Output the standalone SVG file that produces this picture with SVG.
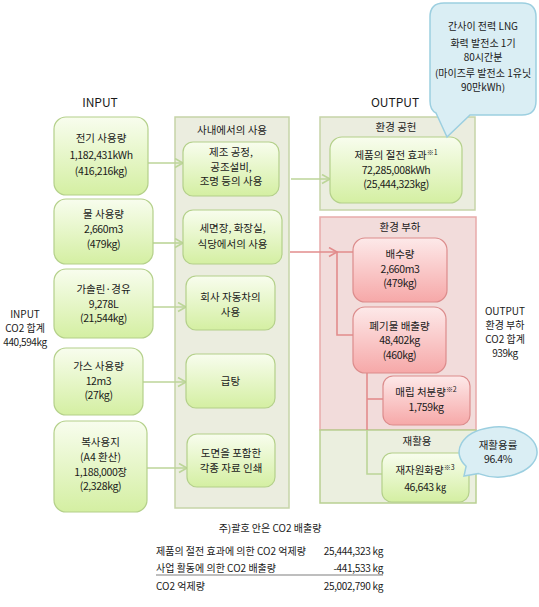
<svg xmlns="http://www.w3.org/2000/svg" width="539" height="607" viewBox="0 0 539 607">
<style>
text{font-family:"Noto Sans CJK KR",sans-serif;font-size:10.5px;fill:#1a1a1a;text-anchor:middle}
.n{letter-spacing:-0.4px}
.s{font-size:10px}
.tb{font-size:10px;text-anchor:start}
.tr{font-size:10px;text-anchor:end;letter-spacing:-0.3px}
.co{font-size:10px}
.sup{font-size:7px}
.gbox{fill:url(#gg);stroke:#b4d08a;stroke-width:1.2}
.pbox{fill:url(#pg);stroke:#dc8c8c;stroke-width:1.2}
.cont{fill:#ebeddf;stroke:#c6d4a8;stroke-width:1.5}
.pcont{fill:#f2dcdb;stroke:#e8aaaa;stroke-width:1.5}
.rcont{fill:#ebefdf;stroke:#b9d092;stroke-width:1.5}
.call{fill:#daeef4;stroke:#9ccfe0;stroke-width:1.5}
.ga{stroke:#bcd598;stroke-width:1.6;fill:none}
.ra{stroke:#e28c8c;stroke-width:1.6;fill:none}
</style>
<defs>
<linearGradient id="gg" x1="0" y1="0" x2="0" y2="1">
<stop offset="0" stop-color="#f8fdee"/>
<stop offset="1" stop-color="#d4efa2"/>
</linearGradient>
<linearGradient id="pg" x1="0" y1="0" x2="0" y2="1">
<stop offset="0" stop-color="#fde9e9"/>
<stop offset="1" stop-color="#f6a8a8"/>
</linearGradient>
<marker id="ag" markerUnits="userSpaceOnUse" markerWidth="12" markerHeight="12" refX="9" refY="5" orient="auto">
<path d="M1,0.5 L9,5 L1,9.5" fill="none" stroke="#bcd598" stroke-width="1.6"/>
</marker>
<marker id="ar" markerUnits="userSpaceOnUse" markerWidth="12" markerHeight="12" refX="9" refY="5" orient="auto">
<path d="M1,0.5 L9,5 L1,9.5" fill="none" stroke="#e28c8c" stroke-width="1.6"/>
</marker>
</defs>
<rect width="539" height="607" fill="#fff"/>

<!-- labels -->
<g id="labels">
<text x="100" y="107" style="font-size:12px">INPUT</text>
<text x="395" y="107" style="font-size:12px">OUTPUT</text>
<text x="25" y="317.5" class="s">INPUT</text>
<text x="25" y="331.5" class="s">CO2 합계</text>
<text x="25" y="345.5" class="s n">440,594kg</text>
<text x="505" y="315" class="s">OUTPUT</text>
<text x="505" y="329" class="s">환경 부하</text>
<text x="505" y="343" class="s">CO2 합계</text>
<text x="505" y="357" class="s n">939kg</text>
</g>

<!-- containers -->
<g id="container-internal">
<rect class="cont" x="175" y="117" width="114" height="391"/>
<text x="232" y="134">사내에서의 사용</text>
</g>
<g id="container-contribution">
<rect class="cont" x="320" y="117" width="155" height="93"/>
<text x="396" y="131">환경 공헌</text>
</g>
<g id="container-load">
<rect class="pcont" x="320" y="217" width="156" height="213"/>
<text x="400" y="231">환경 부하</text>
</g>
<g id="container-recycle">
<rect class="rcont" x="320" y="430" width="156" height="73"/>
<text x="417" y="445">재활용</text>
</g>

<!-- connectors -->
<g id="connectors">
<line class="ga" x1="148" y1="163" x2="183" y2="163" marker-end="url(#ag)"/>
<line class="ga" x1="153" y1="243" x2="183" y2="243" marker-end="url(#ag)"/>
<line class="ga" x1="153" y1="307" x2="186" y2="307" marker-end="url(#ag)"/>
<line class="ga" x1="143" y1="382" x2="186" y2="382" marker-end="url(#ag)"/>
<line class="ga" x1="147" y1="468" x2="187" y2="468" marker-end="url(#ag)"/>
<line class="ga" x1="291" y1="179" x2="330" y2="179" marker-end="url(#ag)"/>
<line class="ra" x1="290" y1="252" x2="337" y2="252" marker-end="url(#ar)"/>
<polyline class="ra" points="353,252 337,252 337,335 353,335"/>
<polyline class="ra" points="367,373 367,430"/>
<polyline class="ra" points="367,399 383,399"/>
<polyline class="ga" points="367,430 367,474 382,474"/>
</g>

<!-- input nodes -->
<g id="in-electricity">
<rect class="gbox" x="54" y="117" width="94" height="78" rx="12"/>
<text x="101" y="142">전기 사용량</text>
<text x="101" y="159" class="n">1,182,431kWh</text>
<text x="101" y="175" class="n">(416,216kg)</text>
</g>
<g id="in-water">
<rect class="gbox" x="54" y="199" width="99" height="65" rx="12"/>
<text x="103.5" y="218">물 사용량</text>
<text x="103.5" y="233" class="n">2,660m3</text>
<text x="103.5" y="248" class="n">(479kg)</text>
</g>
<g id="in-fuel">
<rect class="gbox" x="54" y="269" width="99" height="69" rx="12"/>
<text x="103.5" y="292.5">가솔린·경유</text>
<text x="103.5" y="307.5" class="n">9,278L</text>
<text x="103.5" y="322" class="n">(21,544kg)</text>
</g>
<g id="in-gas">
<rect class="gbox" x="54" y="348" width="89" height="67" rx="12"/>
<text x="98.5" y="369.5">가스 사용량</text>
<text x="98.5" y="384.5" class="n">12m3</text>
<text x="98.5" y="399" class="n">(27kg)</text>
</g>
<g id="in-paper">
<rect class="gbox" x="54" y="421" width="93" height="91" rx="12"/>
<text x="100.5" y="446">복사용지</text>
<text x="100.5" y="461">(A4 환산)</text>
<text x="100.5" y="475.5" class="n">1,188,000장</text>
<text x="100.5" y="490" class="n">(2,328kg)</text>
</g>

<!-- internal use nodes -->
<g id="use-manufacturing">
<rect class="gbox" x="183" y="142" width="96" height="54" rx="10"/>
<text x="231" y="156">제조 공정,</text>
<text x="231" y="170.5">공조설비,</text>
<text x="231" y="185">조명 등의 사용</text>
</g>
<g id="use-facilities">
<rect class="gbox" x="183" y="210" width="99" height="54" rx="10"/>
<text x="232.5" y="232">세면장, 화장실,</text>
<text x="232.5" y="248">식당에서의 사용</text>
</g>
<g id="use-cars">
<rect class="gbox" x="186" y="276" width="89" height="54" rx="10"/>
<text x="230.5" y="301">회사 자동차의</text>
<text x="230.5" y="316">사용</text>
</g>
<g id="use-hotwater">
<rect class="gbox" x="186" y="354" width="89" height="54" rx="10"/>
<text x="230.5" y="385">급탕</text>
</g>
<g id="use-printing">
<rect class="gbox" x="187" y="434" width="88" height="53" rx="10"/>
<text x="231" y="457">도면을 포함한</text>
<text x="231" y="472">각종 자료 인쇄</text>
</g>

<!-- output nodes -->
<g id="out-saving">
<rect class="gbox" x="330" y="137" width="132" height="66" rx="12"/>
<text x="396" y="159">제품의 절전 효과<tspan class="sup" dy="-4">※1</tspan></text>
<text x="396" y="173.5" class="n">72,285,008kWh</text>
<text x="396" y="188" class="n">(25,444,323kg)</text>
</g>
<g id="out-drainage">
<rect class="pbox" x="353" y="238" width="94" height="64" rx="12"/>
<text x="400" y="258">배수량</text>
<text x="400" y="272.5" class="n">2,660m3</text>
<text x="400" y="287" class="n">(479kg)</text>
</g>
<g id="out-waste">
<rect class="pbox" x="353" y="307" width="93" height="66" rx="12"/>
<text x="399.5" y="329.5">폐기물 배출량</text>
<text x="399.5" y="344" class="n">48,402kg</text>
<text x="399.5" y="358.5" class="n">(460kg)</text>
</g>
<g id="out-landfill">
<rect class="pbox" x="383" y="376" width="87" height="49" rx="10"/>
<text x="426" y="396">매립 처분량<tspan class="sup" dy="-4">※2</tspan></text>
<text x="426" y="410.5" class="n">1,759kg</text>
</g>
<g id="out-recycled">
<rect class="gbox" x="382" y="453" width="87" height="49" rx="10"/>
<text x="425" y="474">재자원화량<tspan class="sup" dy="-4">※3</tspan></text>
<text x="425" y="491" class="n">46,643 ㎏</text>
</g>

<!-- callouts -->
<g id="callout-lng">
<path class="call" d="M444,3 H522 Q536,3 536,17 V101 Q536,115 522,115 H470 L447,137 L436,113 Q430,110 430,101 V17 Q430,3 444,3 Z"/>
<text class="co" x="483" y="30">간사이 전력 LNG</text>
<text class="co" x="483" y="47">화력 발전소 1기</text>
<text class="co" x="483" y="61">80시간분</text>
<text class="co" x="483" y="77">(마이즈루 발전소 1유닛</text>
<text class="co" x="483" y="91">90만kWh)</text>
</g>
<g id="callout-recycle-rate">
<path class="call" d="M478.5,473.6 L464,476 L466.1,466.3 A39,25 0 1 1 478.5,473.6 Z"/>
<text x="498" y="448.5">재활용률</text>
<text x="498" y="463" class="n">96.4%</text>
</g>

<!-- note table -->
<g id="note">
<text x="270" y="532" class="s">주)괄호 안은 CO2 배출량</text>
<text class="tb" x="156" y="555">제품의 절전 효과에 의한 CO2 억제량</text>
<text class="tr" x="383" y="555">25,444,323 kg</text>
<text class="tb" x="156" y="572">사업 활동에 의한 CO2 배출량</text>
<text class="tr" x="383" y="572">-441,533 kg</text>
<line x1="156" y1="575" x2="383" y2="575" stroke="#a8a8a8" stroke-width="1.5"/>
<text class="tb" x="156" y="590">CO2 억제량</text>
<text class="tr" x="383" y="590">25,002,790 kg</text>
</g>
</svg>
